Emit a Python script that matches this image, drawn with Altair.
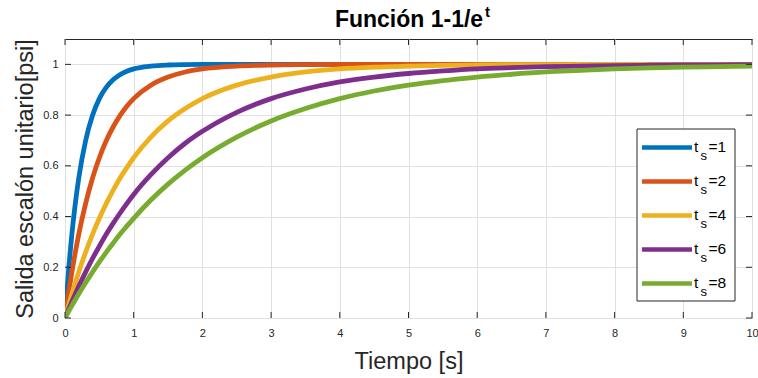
import altair as alt
import pandas as pd

# ---- data ----
time_s = [0, 0.05, 0.1, 0.15, 0.2, 0.3, 0.4, 0.5, 0.6, 0.7, 0.8, 0.9, 1.0, 1.25, 1.5, 1.75, 2.0,
          2.5, 3.0, 3.5, 4.0, 4.5, 5.0, 5.5, 6.0, 6.5, 7.0, 7.5, 8.0, 8.5, 9.0, 9.5, 10.0]
ts_1 = [0, 0.181, 0.330, 0.451, 0.551, 0.699, 0.798, 0.865, 0.909, 0.939, 0.959, 0.973, 0.982, 0.993, 0.9975, 0.9991, 0.9997,
        1, 1, 1, 1, 1, 1, 1, 1, 1, 1, 1, 1, 1, 1, 1, 1]
ts_2 = [0, 0.095, 0.181, 0.259, 0.330, 0.451, 0.551, 0.632, 0.699, 0.753, 0.798, 0.835, 0.865, 0.918, 0.950, 0.970, 0.982,
        0.993, 0.9975, 0.9991, 0.9997, 0.9999, 1, 1, 1, 1, 1, 1, 1, 1, 1, 1, 1]
ts_4 = [0, 0.049, 0.095, 0.139, 0.181, 0.259, 0.330, 0.393, 0.451, 0.503, 0.551, 0.593, 0.632, 0.713, 0.777, 0.826, 0.865,
        0.918, 0.950, 0.970, 0.982, 0.989, 0.993, 0.996, 0.9975, 0.9985, 0.9991, 0.9994, 0.9997, 0.9998, 0.9999, 0.9999, 1.0]
ts_6 = [0, 0.033, 0.0645, 0.095, 0.125, 0.181, 0.234, 0.283, 0.330, 0.373, 0.413, 0.451, 0.487, 0.565, 0.632, 0.689, 0.736,
        0.811, 0.865, 0.903, 0.931, 0.950, 0.964, 0.974, 0.982, 0.987, 0.991, 0.993, 0.9952, 0.9965, 0.9975, 0.9982, 0.9987]
ts_8 = [0, 0.0247, 0.049, 0.072, 0.095, 0.139, 0.181, 0.221, 0.259, 0.295, 0.330, 0.362, 0.393, 0.465, 0.528, 0.583, 0.632,
        0.713, 0.777, 0.826, 0.865, 0.895, 0.918, 0.936, 0.950, 0.961, 0.970, 0.976, 0.982, 0.986, 0.989, 0.991, 0.993]

series_names = ["1", "2", "4", "6", "8"]
series_values = [ts_1, ts_2, ts_4, ts_6, ts_8]
colors = ["#0072BD", "#D95319", "#EDB120", "#7E2F8E", "#77AC30"]
x_ticks = [0, 1, 2, 3, 4, 5, 6, 7, 8, 9, 10]
y_ticks = [0, 0.2, 0.4, 0.6, 0.8, 1.0]

rows = []
for name, vals in zip(series_names, series_values):
    for t, v in zip(time_s, vals):
        rows.append({"t": t, "y": v, "ts": name})
df = pd.DataFrame(rows)

W, H = 687, 279
FONT = "Liberation Sans"
AX = "#262626"

xscale = alt.Scale(domain=[0, 10], nice=False, zero=False)
yscale = alt.Scale(domain=[0, 1.1], nice=False, zero=False)

xaxis = alt.Axis(values=x_ticks, title="Tiempo [s]", grid=True, gridColor="#e0e0e0",
                 tickSize=0, domain=False, labelPadding=9, labelFontSize=11,
                 labelColor=AX, labelFont=FONT, labelFlush=False, labelOverlap=False,
                 titleFont=FONT, titleFontSize=23.5, titleFontWeight="normal",
                 titleColor=AX, titleX=W / 2, titleY=50, titleBaseline="alphabetic",
                 titleAlign="center")
yaxis = alt.Axis(values=y_ticks, format="~g", title="Salida escalón unitario[psi]",
                 grid=True, gridColor="#e0e0e0", tickSize=0, domain=False,
                 labelPadding=7, labelFontSize=11, labelColor=AX, labelFont=FONT,
                 labelFlush=False, labelOverlap=False,
                 titleFont=FONT, titleFontSize=23.5, titleFontWeight="normal",
                 titleColor=AX, titleX=-33, titleY=H / 2, titleAngle=270,
                 titleBaseline="alphabetic", titleAlign="center")

X = alt.X("t:Q", scale=xscale, axis=xaxis)
Y = alt.Y("y:Q", scale=yscale, axis=yaxis)

lines = alt.Chart(df).mark_line(strokeWidth=4.8, clip=True, interpolate="monotone").encode(
    x=X, y=Y,
    color=alt.Color("ts:N", scale=alt.Scale(domain=series_names, range=colors), legend=None),
)

xt = pd.DataFrame({"t": x_ticks})
yt = pd.DataFrame({"y": y_ticks})
tick_b = alt.Chart(xt).mark_rule(color=AX, strokeWidth=1).encode(x=X, y=alt.value(H), y2=alt.value(H - 6))
tick_t = alt.Chart(xt).mark_rule(color=AX, strokeWidth=1).encode(x=X, y=alt.value(0), y2=alt.value(6))
tick_l = alt.Chart(yt).mark_rule(color=AX, strokeWidth=1).encode(y=Y, x=alt.value(0), x2=alt.value(6))
tick_r = alt.Chart(yt).mark_rule(color=AX, strokeWidth=1).encode(y=Y, x=alt.value(W), x2=alt.value(W - 6))

one = pd.DataFrame({"a": [0]})

title_main = alt.Chart(one).mark_text(text="Función 1-1/e", font=FONT, fontSize=23, fontWeight="bold",
                                      align="center", baseline="alphabetic", color="black").encode(
    x=alt.value(344), y=alt.value(-12.5))
title_sup = alt.Chart(one).mark_text(text="t", font=FONT, fontSize=15, fontWeight="bold",
                                     align="left", baseline="alphabetic", color="black").encode(
    x=alt.value(420), y=alt.value(-22))

legend_box = alt.Chart(one).mark_rect(fill="white", stroke=AX, strokeWidth=1).encode(
    x=alt.value(572), x2=alt.value(670), y=alt.value(90), y2=alt.value(262))

legend_layers = []
for i, (name, col) in enumerate(zip(series_names, colors)):
    cy = 108.4 + 34 * i
    legend_layers.append(alt.Chart(one).mark_rule(color=col, strokeWidth=4.5).encode(
        x=alt.value(577), x2=alt.value(627), y=alt.value(cy)))
    legend_layers.append(alt.Chart(one).mark_text(text="t", font=FONT, fontSize=15.5, align="left",
                                                  baseline="alphabetic", color="black").encode(
        x=alt.value(629), y=alt.value(cy + 4.8)))
    legend_layers.append(alt.Chart(one).mark_text(text="s", font=FONT, fontSize=13, align="left",
                                                  baseline="alphabetic", color="black").encode(
        x=alt.value(635.5), y=alt.value(cy + 12.3)))
    legend_layers.append(alt.Chart(one).mark_text(text="=" + name, font=FONT, fontSize=15.5, align="left",
                                                  baseline="alphabetic", color="black").encode(
        x=alt.value(643.5), y=alt.value(cy + 4.8)))

chart = alt.layer(
    lines, tick_b, tick_t, tick_l, tick_r, title_main, title_sup, legend_box, *legend_layers
).properties(
    width=W, height=H,
    padding={"left": 65, "top": 39, "right": 6, "bottom": 60},
    autosize=alt.AutoSizeParams(type="none"),
    background="white",
).configure_view(stroke=AX, strokeWidth=1)

chart.save("out.html", embed_options={"renderer": "svg", "actions": False})
